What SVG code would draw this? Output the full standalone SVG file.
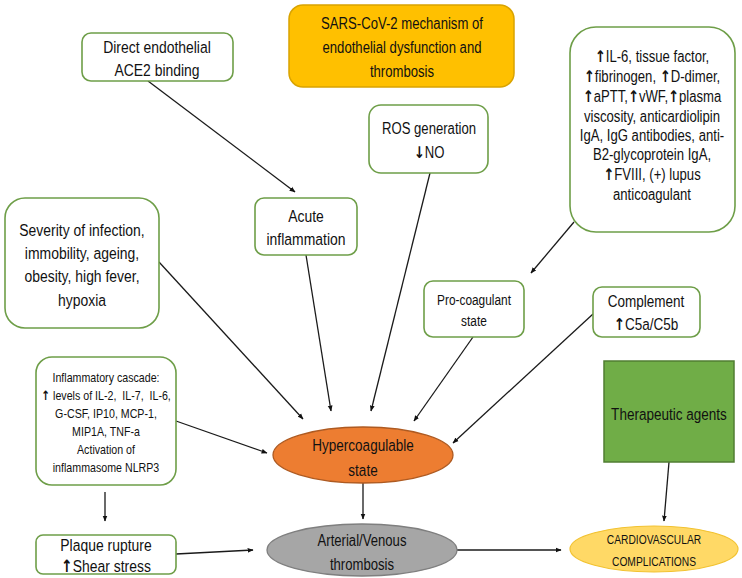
<svg xmlns="http://www.w3.org/2000/svg" width="742" height="578" viewBox="0 0 742 578">
<defs>
<marker id="ah" viewBox="0 0 10 10" refX="9" refY="5" markerWidth="6" markerHeight="6" orient="auto" markerUnits="userSpaceOnUse">
<path d="M0,1 L10,5 L0,9 z" fill="#111"/>
</marker>
<style>
.box{fill:#fff;stroke:#6E9E48;stroke-width:1.6}
.t{font-family:"Liberation Sans",Arial,sans-serif;fill:#111;text-anchor:middle}
.c{stroke:#1a1a1a;stroke-width:1.3;fill:none;marker-end:url(#ah)}
.ar{font-family:"DejaVu Sans",sans-serif;font-weight:bold}
</style>
</defs>
<rect width="742" height="578" fill="#fff"/>
<g id="connectors">
<line class="c" x1="148" y1="81" x2="295" y2="192"/>
<line class="c" x1="306" y1="255" x2="331" y2="411"/>
<line class="c" x1="159" y1="262" x2="303" y2="419"/>
<line class="c" x1="430" y1="173" x2="371" y2="411"/>
<line class="c" x1="574" y1="222" x2="531" y2="273"/>
<line class="c" x1="473" y1="337" x2="414" y2="421"/>
<line class="c" x1="593" y1="314" x2="453" y2="443"/>
<line class="c" x1="176" y1="421" x2="267" y2="453"/>
<line class="c" x1="105" y1="492" x2="105" y2="521"/>
<line class="c" x1="176" y1="554" x2="253" y2="550"/>
<line class="c" x1="363" y1="482" x2="363" y2="519"/>
<line class="c" x1="457" y1="550" x2="561" y2="550"/>
<line class="c" x1="669" y1="462" x2="664" y2="521"/>
</g>
<g id="title">
<rect x="289" y="5" width="225" height="82" rx="14" fill="#FFC000" stroke="#D9A300" stroke-width="1.5"/>
<text class="t" transform="matrix(0.82 0 0 1 402 0)" x="0" y="29" font-size="16">SARS-CoV-2 mechanism of</text>
<text class="t" transform="matrix(0.82 0 0 1 402 0)" x="0" y="53" font-size="16">endothelial dysfunction and</text>
<text class="t" transform="matrix(0.82 0 0 1 402 0)" x="0" y="77" font-size="16">thrombosis</text>
</g>
<g id="direct">
<rect class="box" x="82" y="33" width="151" height="48" rx="9"/>
<text class="t" transform="matrix(0.82 0 0 1 157 0)" x="0" y="53" font-size="17">Direct endothelial</text>
<text class="t" transform="matrix(0.82 0 0 1 157 0)" x="0" y="76" font-size="17">ACE2 binding</text>
</g>
<g id="ros">
<rect class="box" x="369" y="105" width="119" height="68" rx="12"/>
<text class="t" transform="matrix(0.82 0 0 1 429 0)" x="0" y="134" font-size="16">ROS generation</text>
<text class="t" transform="matrix(0.82 0 0 1 429 0)" x="0" y="158" font-size="16"><tspan class="ar">↓</tspan>NO</text>
</g>
<g id="markers">
<rect class="box" x="570" y="27" width="165" height="205" rx="26"/>
<text class="t" transform="matrix(0.82 0 0 1 652 0)" x="0" y="62" font-size="16"><tspan class="ar">↑</tspan>IL-6, tissue factor,</text>
<text class="t" transform="matrix(0.82 0 0 1 652 0)" x="0" y="82" font-size="16"><tspan class="ar">↑</tspan>fibrinogen, <tspan class="ar">↑</tspan>D-dimer,</text>
<text class="t" transform="matrix(0.82 0 0 1 652 0)" x="0" y="102" font-size="16"><tspan class="ar">↑</tspan>aPTT,<tspan class="ar">↑</tspan>vWF,<tspan class="ar">↑</tspan>plasma</text>
<text class="t" transform="matrix(0.82 0 0 1 652 0)" x="0" y="122" font-size="16">viscosity, anticardiolipin</text>
<text class="t" transform="matrix(0.82 0 0 1 652 0)" x="0" y="141" font-size="16">IgA, IgG antibodies, anti-</text>
<text class="t" transform="matrix(0.82 0 0 1 652 0)" x="0" y="160" font-size="16">B2-glycoprotein IgA,</text>
<text class="t" transform="matrix(0.82 0 0 1 652 0)" x="0" y="180" font-size="16"><tspan class="ar">↑</tspan>FVIII, (+) lupus</text>
<text class="t" transform="matrix(0.82 0 0 1 652 0)" x="0" y="200" font-size="16">anticoagulant</text>
</g>
<g id="acute">
<rect class="box" x="255" y="198" width="102" height="57" rx="9"/>
<text class="t" transform="matrix(0.82 0 0 1 306 0)" x="0" y="222" font-size="17">Acute</text>
<text class="t" transform="matrix(0.82 0 0 1 306 0)" x="0" y="245" font-size="17">inflammation</text>
</g>
<g id="severity">
<rect class="box" x="5" y="198" width="154" height="130" rx="20"/>
<text class="t" transform="matrix(0.82 0 0 1 82 0)" x="0" y="236" font-size="17">Severity of infection,</text>
<text class="t" transform="matrix(0.82 0 0 1 82 0)" x="0" y="259" font-size="17">immobility, ageing,</text>
<text class="t" transform="matrix(0.82 0 0 1 82 0)" x="0" y="282" font-size="17">obesity, high fever,</text>
<text class="t" transform="matrix(0.82 0 0 1 82 0)" x="0" y="306" font-size="17">hypoxia</text>
</g>
<g id="procoag">
<rect class="box" x="424" y="281" width="100" height="56" rx="9"/>
<text class="t" transform="matrix(0.82 0 0 1 474 0)" x="0" y="305" font-size="14.5">Pro-coagulant</text>
<text class="t" transform="matrix(0.82 0 0 1 474 0)" x="0" y="326" font-size="14.5">state</text>
</g>
<g id="complement">
<rect class="box" x="593" y="287" width="107" height="50" rx="9"/>
<text class="t" transform="matrix(0.82 0 0 1 646 0)" x="0" y="307" font-size="16.5">Complement</text>
<text class="t" transform="matrix(0.82 0 0 1 646 0)" x="0" y="330" font-size="16.5"><tspan class="ar">↑</tspan>C5a/C5b</text>
</g>
<g id="therapeutic">
<rect x="604" y="361" width="130" height="101" fill="#70AD47" stroke="#507E32" stroke-width="1.5"/>
<text class="t" transform="matrix(0.82 0 0 1 669 0)" x="0" y="420" font-size="16.5">Therapeutic agents</text>
</g>
<g id="cascade">
<rect class="box" x="36" y="357" width="140" height="128" rx="16"/>
<text class="t" transform="matrix(0.82 0 0 1 106 0)" x="0" y="382" font-size="13">Inflammatory cascade:</text>
<text class="t" transform="matrix(0.82 0 0 1 106 0)" x="0" y="400" font-size="13" xml:space="preserve"><tspan class="ar">↑</tspan> levels of IL-2,  IL-7,  IL-6,</text>
<text class="t" transform="matrix(0.82 0 0 1 106 0)" x="0" y="418" font-size="13">G-CSF, IP10, MCP-1,</text>
<text class="t" transform="matrix(0.82 0 0 1 106 0)" x="0" y="436" font-size="13">MIP1A, TNF-a</text>
<text class="t" transform="matrix(0.82 0 0 1 106 0)" x="0" y="454" font-size="13">Activation of</text>
<text class="t" transform="matrix(0.82 0 0 1 106 0)" x="0" y="472" font-size="13">inflammasome NLRP3</text>
</g>
<g id="plaque">
<rect class="box" x="36" y="535" width="140" height="39" rx="7"/>
<text class="t" transform="matrix(0.82 0 0 1 106 0)" x="0" y="551" font-size="17">Plaque rupture</text>
<text class="t" transform="matrix(0.82 0 0 1 106 0)" x="0" y="572" font-size="17"><tspan class="ar">↑</tspan>Shear stress</text>
</g>
<g id="hyper">
<ellipse cx="363" cy="455" rx="90" ry="28" fill="#ED7D31" stroke="#AE5A21" stroke-width="1.3"/>
<text class="t" transform="matrix(0.82 0 0 1 363 0)" x="0" y="451" font-size="16.5">Hypercoagulable</text>
<text class="t" transform="matrix(0.82 0 0 1 363 0)" x="0" y="476" font-size="16.5">state</text>
</g>
<g id="arterial">
<ellipse cx="362" cy="550" rx="95" ry="26" fill="#A6A6A6" stroke="#7F7F7F" stroke-width="1.3"/>
<text class="t" transform="matrix(0.82 0 0 1 362 0)" x="0" y="546" font-size="16">Arterial/Venous</text>
<text class="t" transform="matrix(0.82 0 0 1 362 0)" x="0" y="570" font-size="16">thrombosis</text>
</g>
<g id="cardio">
<ellipse cx="654" cy="549" rx="84" ry="23" fill="#FFD966" stroke="#F2C230" stroke-width="1.2"/>
<text class="t" transform="matrix(0.82 0 0 1 654 0)" x="0" y="544" font-size="12.5">CARDIOVASCULAR</text>
<text class="t" transform="matrix(0.82 0 0 1 654 0)" x="0" y="566" font-size="12.5">COMPLICATIONS</text>
</g>
</svg>
